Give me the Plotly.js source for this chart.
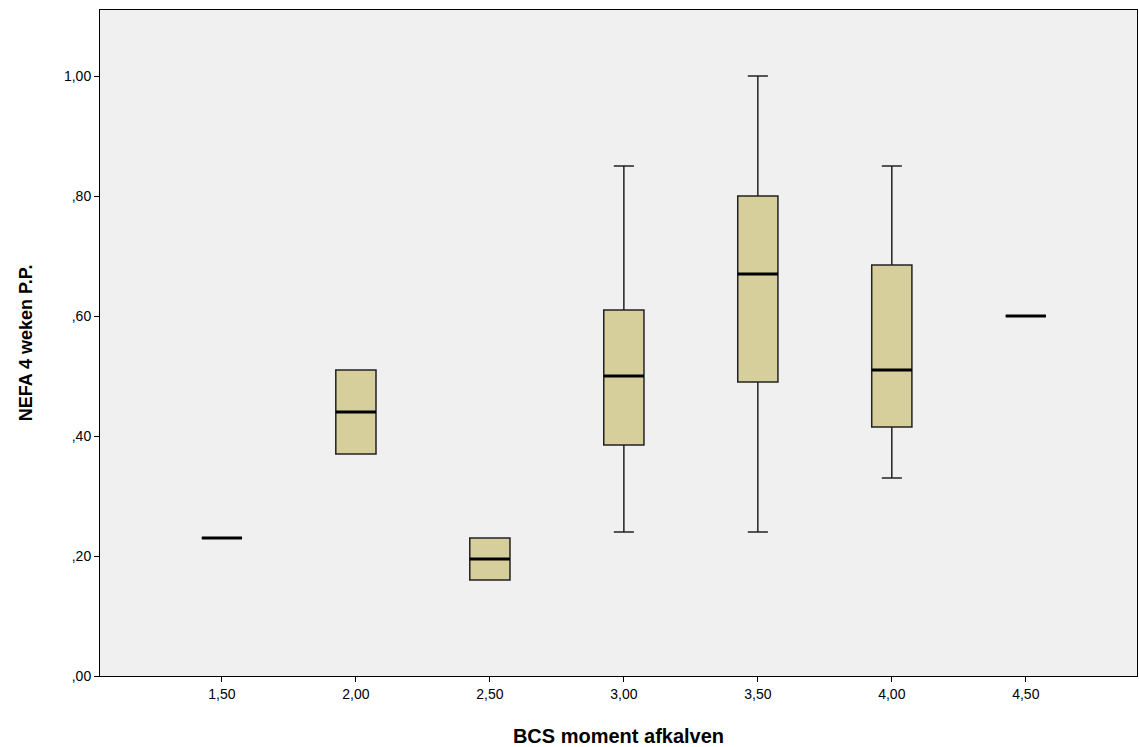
<!DOCTYPE html>
<html>
<head>
<meta charset="utf-8">
<script src="https://cdn.plot.ly/plotly-3.0.1.min.js"></script>
<style>body{margin:0}#plot{width:1139px;height:747px}</style>
</head>
<body>
<div id="plot"></div>
<script>
// BCS categories and box statistics
let categories = ['1,50', '2,00', '2,50', '3,00', '3,50', '4,00', '4,50']
let lower_fence = [0.23, 0.37, 0.16, 0.24, 0.24, 0.33, 0.60]
let q1 = [0.23, 0.37, 0.16, 0.385, 0.49, 0.415, 0.60]
let median = [0.23, 0.44, 0.195, 0.50, 0.67, 0.51, 0.60]
let q3 = [0.23, 0.51, 0.23, 0.61, 0.80, 0.685, 0.60]
let upper_fence = [0.23, 0.51, 0.23, 0.85, 1.00, 0.85, 0.60]

let y_ticks = [0, 0.2, 0.4, 0.6, 0.8, 1.0]
let y_labels = [',00', ',20', ',40', ',60', ',80', '1,00']

let boxes = {
  type: 'box',
  x: categories,
  q1: q1, median: median, q3: q3,
  lowerfence: lower_fence, upperfence: upper_fence,
  fillcolor: '#d6cf9b',
  line: {color: '#222', width: 1.5},
  whiskerwidth: 0.5,
  width: 0.3,
  boxpoints: false,
  hoverinfo: 'skip'
}

// thick median bars drawn on top
let medians = {
  type: 'box',
  x: categories,
  q1: median, median: median, q3: median,
  lowerfence: median, upperfence: median,
  fillcolor: 'rgba(0,0,0,0)',
  line: {color: '#000', width: 3},
  whiskerwidth: 0,
  width: 0.3,
  boxpoints: false,
  hoverinfo: 'skip'
}

let font = {family: 'Arial, Liberation Sans, sans-serif', color: '#000'}

let layout = {
  showlegend: false,
  boxmode: 'overlay',
  width: 1139, height: 747,
  margin: {l: 100, r: 2, t: 10, b: 71},
  paper_bgcolor: '#fff',
  plot_bgcolor: '#f0f0f0',
  font: font,
  xaxis: {
    type: 'category',
    range: [-0.91, 6.83],
    showgrid: false, zeroline: false,
    showline: true, mirror: true, linecolor: '#000', linewidth: 1,
    ticks: 'outside', ticklen: 5, tickcolor: '#000',
    tickfont: {size: 14},
    title: {text: '<b>BCS moment afkalven</b>', font: {size: 20}, standoff: 28}
  },
  yaxis: {
    range: [0, 1.11],
    tickvals: y_ticks, ticktext: y_labels,
    showgrid: false, zeroline: false,
    showline: true, mirror: true, linecolor: '#000', linewidth: 1,
    ticks: 'outside', ticklen: 5, tickcolor: '#000',
    tickfont: {size: 14},
    title: {text: '<b>NEFA 4 weken P.P.</b>', font: {size: 18}, standoff: 26}
  }
}

Plotly.newPlot('plot', [boxes, medians], layout, {displayModeBar: false})
</script>
</body>
</html>
